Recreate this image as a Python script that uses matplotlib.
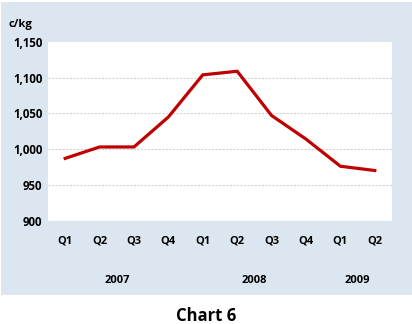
import matplotlib.pyplot as plt
from matplotlib.patches import Rectangle
from matplotlib.transforms import blended_transform_factory

quarters = ['Q1', 'Q2', 'Q3', 'Q4', 'Q1', 'Q2', 'Q3', 'Q4', 'Q1', 'Q2']
prices = [987, 1003, 1003, 1045, 1104, 1109, 1047, 1014, 976, 970]
years = ['2007', '2008', '2009']
year_pos = [1.5, 5.5, 8.5]
yticks = [900, 950, 1000, 1050, 1100, 1150]

plt.rcParams['font.family'] = ['Open Sans', 'DejaVu Sans']

fig = plt.figure(figsize=(4.12, 3.24), dpi=100)
fig.patch.set_facecolor('white')
# blue-grey panel behind the chart
fig.patches.append(Rectangle((1 / 412, 29 / 324), 411 / 412, 293 / 324,
                             transform=fig.transFigure, facecolor='#dce6f0',
                             edgecolor='none', zorder=-10))

ax = fig.add_axes([48 / 412, 103.5 / 324, 344 / 412, 178.5 / 324])
ax.set_facecolor('white')

x = list(range(len(prices)))
ax.plot(x, prices, color='#c00000', lw=2.3, solid_joinstyle='miter', zorder=3)

ax.set_xlim(-0.5, len(prices) - 0.5)
ax.set_ylim(900, 1150)
ax.set_yticks(yticks)
ax.set_yticklabels([f'{v:,}' for v in yticks], fontsize=8.3, fontweight='bold')
ax.set_xticks(x)
ax.set_xticklabels(quarters, fontsize=8, fontweight='bold')
ax.tick_params(length=0, pad=11, axis='x')
ax.tick_params(length=0, pad=4, axis='y')

for v in yticks[:-1]:
    ax.axhline(v, color='#d2d2d2', lw=0.8, ls=(0, (2, 1.2)), zorder=1)

for s in ax.spines.values():
    s.set_visible(False)

trans = blended_transform_factory(ax.transData, ax.transAxes)
for yr, p in zip(years, year_pos):
    ax.text(p, -0.335, yr, transform=trans, ha='center', va='center',
            fontsize=8, fontweight='bold')

fig.text(20 / 412, 1 - 24 / 324, 'c/kg', ha='center', va='center',
         fontsize=8, fontweight='bold')
fig.text(206 / 412, 1 - 316 / 324, 'Chart 6', ha='center', va='center',
         fontsize=12, fontweight='bold')

fig.savefig('out.png', dpi=100)
